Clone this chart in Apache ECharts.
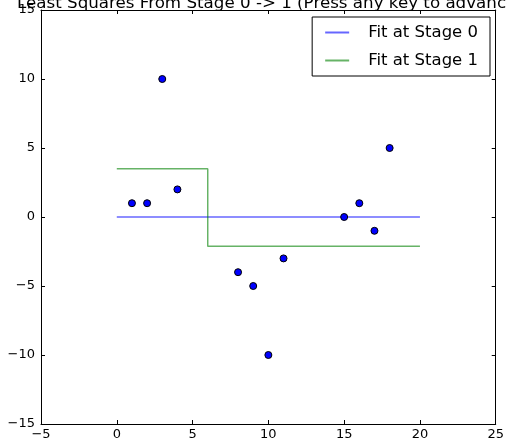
<!DOCTYPE html>
<html>
<head>
<meta charset="utf-8">
<script src="https://cdn.jsdelivr.net/npm/echarts@6/dist/echarts.min.js"></script>
<style>
html,body{margin:0;padding:0;background:#fff;}
#main{width:507px;height:444px;}
</style>
</head>
<body>
<div id="main"></div>
<script>
// data points
var pointX = [1, 2, 3, 4, 8, 9, 10, 11, 15, 16, 17, 18];
var pointY = [1, 1, 10, 2, -4, -5, -10, -3, 0, 1, -1, 5];

// fit at stage 0
var stage0X = [0, 20];
var stage0Y = [0, 0];

// fit at stage 1 (step)
var stage1X = [0, 6, 6, 20];
var stage1Y = [3.5, 3.5, -2.125, -2.125];

var xTicks = [-5, 0, 5, 10, 15, 20, 25];
var yTicks = [-15, -10, -5, 0, 5, 10, 15];

var font = 'DejaVu Sans';

var zip = function(xs, ys){
	var out = [];
	for(var i=0;i<xs.length;i++){
		out.push([xs[i], ys[i]]);
	}
	return out;
};

var minus = function(v){
	return String(v).replace('-', '\u2212');
};

// one frame side: line + inward ticks, labels only on bottom/left
var frameAxis = function(show, ticks){
	return {
		type: 'value',
		min: ticks[0],
		max: ticks[ticks.length-1],
		interval: ticks[1]-ticks[0],
		axisLine: {show: true, onZero: false, lineStyle: {color: '#000', width: 1}},
		axisTick: {show: true, inside: true, length: 4, lineStyle: {color: '#000'}},
		splitLine: {show: false},
		axisLabel: {show: show, color: '#000', fontFamily: font, fontSize: 13, formatter: minus}
	};
};

var chart = echarts.init(document.getElementById('main'));

var xBottom = frameAxis(true, xTicks);
xBottom.position = 'bottom';
xBottom.axisLabel.margin = 4;

var xTop = frameAxis(false, xTicks);
xTop.position = 'top';

var yLeft = frameAxis(true, yTicks);
yLeft.position = 'left';
yLeft.axisLabel.margin = 6;

var yRight = frameAxis(false, yTicks);
yRight.position = 'right';

var option = {
	animation: false,
	title: {
		text: 'Least Squares From Stage 0 -> 1 (Press any key to advance)',
		left: 12,
		top: -10,
		textStyle: {fontFamily: font, fontSize: 16.7, fontWeight: 'normal', color: '#000'}
	},
	grid: {left: 41, right: 10, top: 10, bottom: 20, containLabel: false},
	legend: {
		orient: 'vertical',
		right: 17,
		top: 17,
		padding: [7, 12, 7, 12],
		itemWidth: 24,
		itemHeight: 14,
		itemGap: 11,
		borderColor: '#000',
		borderWidth: 1,
		borderRadius: 0,
		backgroundColor: '#fff',
		itemStyle: {opacity: 0},
		data: ['Fit at Stage 0', 'Fit at Stage 1'],
		textStyle: {fontFamily: font, fontSize: 16.5, color: '#000', padding: [0, 0, 0, 14]}
	},
	xAxis: [xBottom, xTop],
	yAxis: [yLeft, yRight],
	series: [
		{
			name: 'Fit at Stage 0',
			type: 'line',
			symbol: 'none',
			data: zip(stage0X, stage0Y),
			lineStyle: {color: 'rgba(0,0,255,0.6)', width: 1.5},
			itemStyle: {color: 'rgba(0,0,255,0.6)'},
			z: 2
		},
		{
			name: 'Fit at Stage 1',
			type: 'line',
			symbol: 'none',
			data: zip(stage1X, stage1Y),
			lineStyle: {color: 'rgba(0,128,0,0.6)', width: 1.5},
			itemStyle: {color: 'rgba(0,128,0,0.6)'},
			z: 2
		},
		{
			name: 'points',
			type: 'scatter',
			symbolSize: 7,
			data: zip(pointX, pointY),
			itemStyle: {color: '#0000ff', borderColor: '#000', borderWidth: 1, opacity: 1},
			z: 3
		}
	]
};

chart.setOption(option);
</script>
</body>
</html>
